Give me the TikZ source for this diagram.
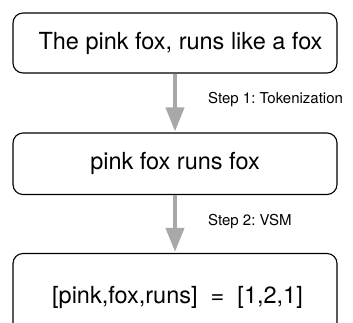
\documentclass[tikz,border=0pt]{standalone}
\usepackage{fontspec}
\setmainfont{TeX Gyre Heros}
\usetikzlibrary{arrows.meta}
\definecolor{flowgray}{HTML}{A8A8A8}
\frenchspacing
\begin{document}
\begin{tikzpicture}[
  x=1pt, y=-1pt,
  box/.style={rectangle, draw, rounded corners=10pt, line width=1.1pt,
    minimum width=324pt, inner sep=0pt, align=center,
    font=\fontsize{23.5}{28}\selectfont},
  steplbl/.style={anchor=west, inner sep=0pt, font=\fontsize{15}{18}\selectfont},
  flow/.style={draw=flowgray, line width=4pt,
    -{Triangle[width=18pt,length=24pt,fill=flowgray]}, shorten >=1pt}
]
\clip (0,0) rectangle (353,322);
\node[box, minimum height=60pt] (sent) at (175,43) {\hspace*{11pt}The pink fox, runs like a fox};
\node[box, minimum height=61.5pt] (toks) at (175,163.75) {pink fox runs fox};
\node[box, minimum height=88pt] (vec) at (175,297.5) {\hspace*{5pt}[pink,fox,runs]\ \ =\ \ [1,2,1]};
\node[steplbl] (s1) at (208,100) {Step 1: Tokenization};
\node[steplbl] (s2) at (208,222) {Step 2: VSM};
\draw[flow] (sent) -- (toks);
\draw[flow] (toks) -- (vec);
\end{tikzpicture}
\end{document}
